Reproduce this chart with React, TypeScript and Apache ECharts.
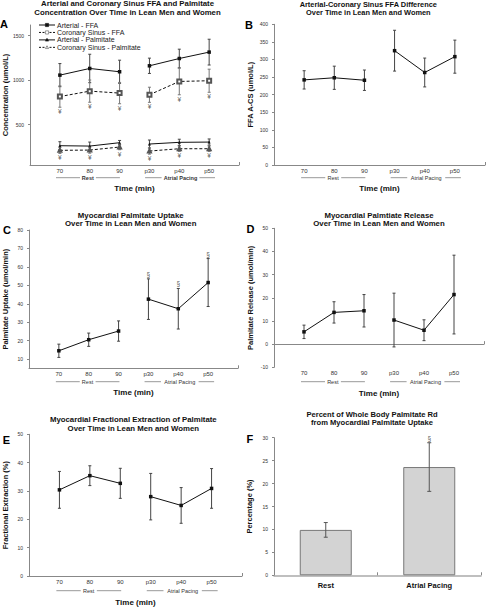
import React, { useEffect, useRef } from 'react';
import * as echarts from 'echarts';

const FONT = '"Liberation Sans", Arial, Helvetica, sans-serif';

// ---- data ----
const timeLabels = ['70', '80', '90', 'p30', 'p40', 'p50'];
// Panel A (umol/L)
const artFFA = [1056, 1131, 1094, 1161, 1243, 1315];
const artFFAErr = [130, 160, 130, 86, 105, 145];
const csFFA = [815, 876, 854, 835, 985, 993];
const csFFAErr = [120, 125, 120, 85, 150, 130];
const artPal = [262, 258, 296, 281, 300, 303];
const artPalErr = [45, 45, 25, 45, 35, 35];
const csPal = [210, 213, 247, 202, 228, 228];
const csPalErr = [35, 35, 30, 35, 30, 30];
const csSig = [true, true, true, true, true, true];
const legendNames = ['Arterial - FFA', 'Coronary Sinus - FFA', 'Arterial - Palmitate', 'Coronary Sinus - Palmitate'];
// Panel B
const diffFFA = [242, 248, 241, 325, 263, 308];
const diffFFAErr = [26, 33, 29, 58, 41, 47];
// Panel C
const palUptake = [14.5, 20.5, 25.2, 42.5, 37.3, 51.5];
const palUptakeErr = [3.6, 3.6, 5.5, 11, 11, 13];
const uptakeSig = [false, false, false, true, true, true];
// Panel D
const palRelease = [5.3, 13.7, 14.4, 10.4, 6.0, 21.4];
const palReleaseErr = [2.9, 4.6, 7, 11.6, 4.5, 17];
// Panel E
const fracExt = [30.4, 35.4, 32.7, 28, 24.9, 30.9];
const fracExtErr = [6.5, 3.5, 5.3, 8.2, 6.3, 7];
// Panel F
const rdCats = ['Rest', 'Atrial Pacing'];
const rdPct = [9.9, 23.6];
const rdPctErr = [1.6, 5.3];
const rdSig = [false, true];

const yTicksA = [500, 1000, 1500];
const yTicksC = [10, 20, 30, 40, 50, 60, 70, 80];

// ---- layout ----
type G = { left: number; top: number; width: number; height: number };
const grids: G[] = [
  { left: 29, top: 25, width: 210, height: 140 },
  { left: 274, top: 24.3, width: 211, height: 140.7 },
  { left: 29, top: 230, width: 209, height: 138.3 },
  { left: 274, top: 228.3, width: 210, height: 139 },
  { left: 29, top: 434.3, width: 213, height: 141.7 },
  { left: 274, top: 437.7, width: 207, height: 137.6 },
];

const lineData = (vals: number[]) => {
  const d: any[] = [];
  vals.forEach((v, i) => {
    if (i === 3) d.push([3.5, '-']);
    d.push([i + 1, v]);
  });
  return d;
};
const errData = (vals: number[], errs: number[]) => vals.map((v, i) => [i + 1, v, errs[i]]);

const errRender = (cap: number, color: string) => (_p: any, api: any) => {
  const x = api.value(0), y = api.value(1), e = api.value(2);
  const top = api.coord([x, y + e]);
  const bot = api.coord([x, y - e]);
  const st = { stroke: color, lineWidth: 1, fill: null };
  return {
    type: 'group',
    children: [
      { type: 'line', shape: { x1: top[0], y1: top[1], x2: bot[0], y2: bot[1] }, style: st },
      { type: 'line', shape: { x1: top[0] - cap, y1: top[1], x2: top[0] + cap, y2: top[1] }, style: st },
      { type: 'line', shape: { x1: bot[0] - cap, y1: bot[1], x2: bot[0] + cap, y2: bot[1] }, style: st },
    ],
  };
};

const timeXAxis = (gi: number, nameGap: number) => ({
  type: 'value',
  gridIndex: gi,
  min: 0,
  max: 7,
  axisLine: { show: true, lineStyle: { color: '#888', width: 1 } },
  axisTick: { show: true, inside: true, length: 3, customValues: [7], lineStyle: { color: '#888' } },
  splitLine: { show: false },
  axisLabel: {
    customValues: [1, 2, 3, 4, 5, 6],
    formatter: (v: number) => timeLabels[Math.round(v) - 1] ?? '',
    fontSize: 6,
    color: '#333',
    margin: 3,
    fontFamily: FONT,
  },
  name: 'Time (min)',
  nameLocation: 'middle',
  nameGap,
  nameTextStyle: { fontSize: 8, fontWeight: 'bold', color: '#111', fontFamily: FONT },
});

const yAxisBase = (gi: number, name: string, min: number, max: number, extra: any) => ({
  type: 'value',
  gridIndex: gi,
  min,
  max,
  axisLine: { show: true, lineStyle: { color: '#888', width: 1 } },
  axisTick: { show: true, length: 2, lineStyle: { color: '#888' }, ...(extra.tick || {}) },
  splitLine: { show: false },
  axisLabel: {
    fontSize: 5,
    color: '#333',
    margin: 6,
    fontFamily: FONT,
    formatter: (v: number) => String(v),
    ...(extra.label || {}),
  },
  ...(extra.interval ? { interval: extra.interval } : {}),
  name,
  nameLocation: 'middle',
  nameRotate: 90,
  nameGap: extra.nameGap ?? 20,
  nameTextStyle: { fontSize: 7.5, fontWeight: 'bold', color: '#111', fontFamily: FONT },
});

const lineSeries = (name: string, vals: number[], gi: number, symbol: string, size: number, dashed: boolean) => {
  const empty = symbol.startsWith('empty');
  return {
    type: 'line',
    name,
    xAxisIndex: gi,
    yAxisIndex: gi,
    data: lineData(vals),
    symbol,
    symbolSize: size,
    showSymbol: true,
    connectNulls: false,
    lineStyle: { color: '#111', width: 1, type: dashed ? [3, 2] : 'solid' },
    itemStyle: empty
      ? { color: '#555', borderColor: '#555', borderWidth: 0.6 }
      : { color: '#111', borderColor: '#111', borderWidth: 0 },
    emphasis: { disabled: true },
    z: 4,
  };
};

const errSeries = (vals: number[], errs: number[], gi: number, color = '#444', cap = 1.5) => ({
  type: 'custom',
  xAxisIndex: gi,
  yAxisIndex: gi,
  data: errData(vals, errs),
  renderItem: errRender(cap, color),
  encode: { x: 0, y: 1 },
  itemStyle: { color },
  silent: true,
  z: 3,
});

// significance symbols, placed at the end of the error bar through a scatter label
const markSeries = (vals: number[], errs: number[], sig: boolean[], gi: number, text: string, below: boolean, xs?: number[]) => ({
  type: 'scatter',
  xAxisIndex: gi,
  yAxisIndex: gi,
  data: vals
    .map((v, i) => [xs ? xs[i] : i + 1, below ? v - errs[i] : v + errs[i]])
    .filter((_d, i) => sig[i]),
  symbolSize: 1,
  itemStyle: { color: 'rgba(0,0,0,0)' },
  label: {
    show: true,
    formatter: () => text,
    position: below ? 'bottom' : 'top',
    distance: 0.5,
    fontSize: 6.5,
    color: '#333',
    fontFamily: FONT,
  },
  emphasis: { disabled: true },
  silent: true,
  z: 5,
});

const annots = (g: G, y: number, bold: boolean) => {
  const u = g.width / 7;
  const X = (v: number) => g.left + v * u;
  const ls = { stroke: '#999', lineWidth: 1 };
  const ts = (text: string) => ({
    text,
    fontSize: 5.5,
    fontWeight: bold ? 'bold' : 'normal',
    fontFamily: FONT,
    fill: '#333',
    align: 'center',
    verticalAlign: 'middle',
  });
  return [
    { type: 'line', shape: { x1: X(0.9), y1: y, x2: X(1.7), y2: y }, style: ls },
    { type: 'text', x: X(1.96), y, style: ts('Rest') },
    { type: 'line', shape: { x1: X(2.23), y1: y, x2: X(3.03), y2: y }, style: ls },
    { type: 'line', shape: { x1: X(3.87), y1: y, x2: X(4.42), y2: y }, style: ls },
    { type: 'text', x: X(5.05), y, style: ts('Atrial Pacing') },
    { type: 'line', shape: { x1: X(5.68), y1: y, x2: X(6.2), y2: y }, style: ls },
  ];
};

// legend for panel A, drawn as graphic
const legendA = () => {
  const out: any[] = [];
  const x0 = 39, x1 = 55, xm = 47;
  legendNames.forEach((name, i) => {
    const y = 25 + i * 7.45;
    const dashed = i % 2 === 1;
    const tri = i >= 2;
    out.push({
      type: 'line',
      shape: { x1: x0, y1: y, x2: x1, y2: y },
      style: { stroke: '#111', lineWidth: 1, lineDash: dashed ? [2, 1.5] : null },
    });
    const fill = dashed ? '#fff' : '#111';
    const stroke = dashed ? '#555' : '#111';
    if (tri) {
      out.push({
        type: 'polygon',
        shape: { points: [[xm, y - 1.6], [xm - 1.6, y + 1.2], [xm + 1.6, y + 1.2]] },
        style: { fill, stroke, lineWidth: 0.6 },
      });
    } else {
      out.push({
        type: 'rect',
        shape: { x: xm - 1.6, y: y - 1.6, width: 3.2, height: 3.2 },
        style: { fill, stroke, lineWidth: 0.6 },
      });
    }
    out.push({
      type: 'text',
      x: 57,
      y,
      style: { text: name, fontSize: 7, fontFamily: FONT, fill: '#222', align: 'left', verticalAlign: 'middle' },
    });
  });
  return out;
};

const titleText = (x: number, y: number, text: string, size = 7.8) => ({
  type: 'text',
  x,
  y,
  style: {
    text,
    fontSize: size,
    fontWeight: 'bold',
    fontFamily: FONT,
    fill: '#111',
    align: 'center',
    verticalAlign: 'top',
    lineHeight: 8.5,
  },
});

const letter = (x: number, y: number, text: string) => ({
  type: 'text',
  x,
  y,
  style: { text, fontSize: 11, fontWeight: 'bold', fontFamily: FONT, fill: '#000', align: 'left', verticalAlign: 'middle' },
});

export default function App() {
  const ref = useRef<HTMLDivElement>(null);
  useEffect(() => {
    if (!ref.current) return;
    const chart = echarts.init(ref.current, undefined, { renderer: 'svg' });
    const option: any = {
      animation: false,
      backgroundColor: '#fff',
      textStyle: { fontFamily: FONT },
      grid: grids.map((g) => ({ ...g, containLabel: false })),
      xAxis: [
        timeXAxis(0, 19),
        timeXAxis(1, 19),
        timeXAxis(2, 20),
        timeXAxis(3, 22),
        timeXAxis(4, 22),
        {
          type: 'category',
          gridIndex: 5,
          data: rdCats,
          axisLine: { show: true, lineStyle: { color: '#aaa', width: 1.5 } },
          axisTick: { show: true, inside: true, length: 3, lineStyle: { color: '#888' } },
          axisLabel: { fontSize: 7.5, fontWeight: 'bold', color: '#111', margin: 6, fontFamily: FONT },
        },
      ],
      yAxis: [
        yAxisBase(0, 'Concentration (umol/L)', 45, 1620, {
          label: { customValues: yTicksA },
          tick: { customValues: yTicksA },
          nameGap: 20,
        }),
        yAxisBase(1, 'FFA A-CS (umol/L)', 0, 400, { interval: 50, nameGap: 20 }),
        yAxisBase(2, 'Palmitate Uptake (umol/min)', 5, 80, {
          label: { customValues: yTicksC },
          tick: { customValues: yTicksC },
          nameGap: 20,
        }),
        yAxisBase(3, 'Palmitate Release (umol/min)', -10, 50, { interval: 10, nameGap: 20 }),
        yAxisBase(4, 'Fractional Extraction (%)', 0, 50, { interval: 10, nameGap: 20 }),
        yAxisBase(5, 'Percentage (%)', 0, 30, { interval: 5, nameGap: 21 }),
      ],
      series: [
        // A
        errSeries(artFFA, artFFAErr, 0),
        errSeries(csFFA, csFFAErr, 0, '#777'),
        errSeries(artPal, artPalErr, 0),
        errSeries(csPal, csPalErr, 0, '#777'),
        lineSeries(legendNames[0], artFFA, 0, 'rect', 3.5, false),
        lineSeries(legendNames[1], csFFA, 0, 'emptyRect', 4, true),
        lineSeries(legendNames[2], artPal, 0, 'triangle', 3, false),
        lineSeries(legendNames[3], csPal, 0, 'emptyTriangle', 3, true),
        markSeries(csFFA, csFFAErr, csSig, 0, '¥', true),
        markSeries(csPal, csPalErr, csSig, 0, '¥', true),
        // B
        errSeries(diffFFA, diffFFAErr, 1),
        lineSeries('B', diffFFA, 1, 'rect', 3.5, false),
        // C
        errSeries(palUptake, palUptakeErr, 2),
        lineSeries('C', palUptake, 2, 'rect', 3.5, false),
        markSeries(palUptake, palUptakeErr, uptakeSig, 2, '§', false),
        // D
        errSeries(palRelease, palReleaseErr, 3),
        lineSeries('D', palRelease, 3, 'rect', 3.5, false),
        // E
        errSeries(fracExt, fracExtErr, 4),
        lineSeries('E', fracExt, 4, 'rect', 3.5, false),
        // F
        {
          type: 'bar',
          xAxisIndex: 5,
          yAxisIndex: 5,
          data: rdPct,
          barWidth: 52,
          itemStyle: { color: '#d3d3d3', borderColor: '#777', borderWidth: 1 },
          emphasis: { disabled: true },
          z: 2,
        },
        {
          type: 'custom',
          xAxisIndex: 5,
          yAxisIndex: 5,
          data: rdPct.map((v, i) => [i, v, rdPctErr[i]]),
          renderItem: errRender(2, '#555'),
          encode: { x: 0, y: 1 },
          itemStyle: { color: '#555' },
          silent: true,
          z: 3,
        },
        markSeries(rdPct, rdPctErr, rdSig, 5, '§', false, [0, 1]),
      ],
      graphic: [
        titleText(127.5, -0.5, 'Arterial and Coronary Sinus FFA and Palmitate\nConcentration Over Time in Lean Men and Women', 7.8),
        titleText(368.3, 0, 'Arterial-Coronary Sinus FFA Difference\nOver Time in Lean Men and Women', 7.4),
        titleText(130.7, 211, 'Myocardial Palmitate Uptake\nOver Time in Lean Men and Women', 7.8),
        titleText(379, 211, 'Myocardial Palmtiate Release\nOver Time in Lean Men and Women', 7.8),
        titleText(133.3, 415.3, 'Myocardial Fractional Extraction of Palmitate\nOver Time in Lean Men and Women', 7.8),
        titleText(372, 410, 'Percent of Whole Body Palmitate Rd\nfrom Myocardial Palmitate Uptake', 7.6),
        letter(0, 24, 'A'),
        letter(245, 24.5, 'B'),
        letter(3, 229.7, 'C'),
        letter(246.5, 228.8, 'D'),
        letter(2.7, 439.5, 'E'),
        letter(246.5, 439, 'F'),
        ...legendA(),
        ...annots(grids[0], 177.7, true),
        ...annots(grids[1], 177.7, false),
        ...annots(grids[2], 381.7, false),
        ...annots(grids[3], 381.7, false),
        ...annots(grids[4], 590.7, false),
      ],
    };
    chart.setOption(option);
    return () => chart.dispose();
  }, []);
  return <div ref={ref} style={{ position: 'absolute', left: 0, top: 0, width: 486, height: 607 }} />;
}
